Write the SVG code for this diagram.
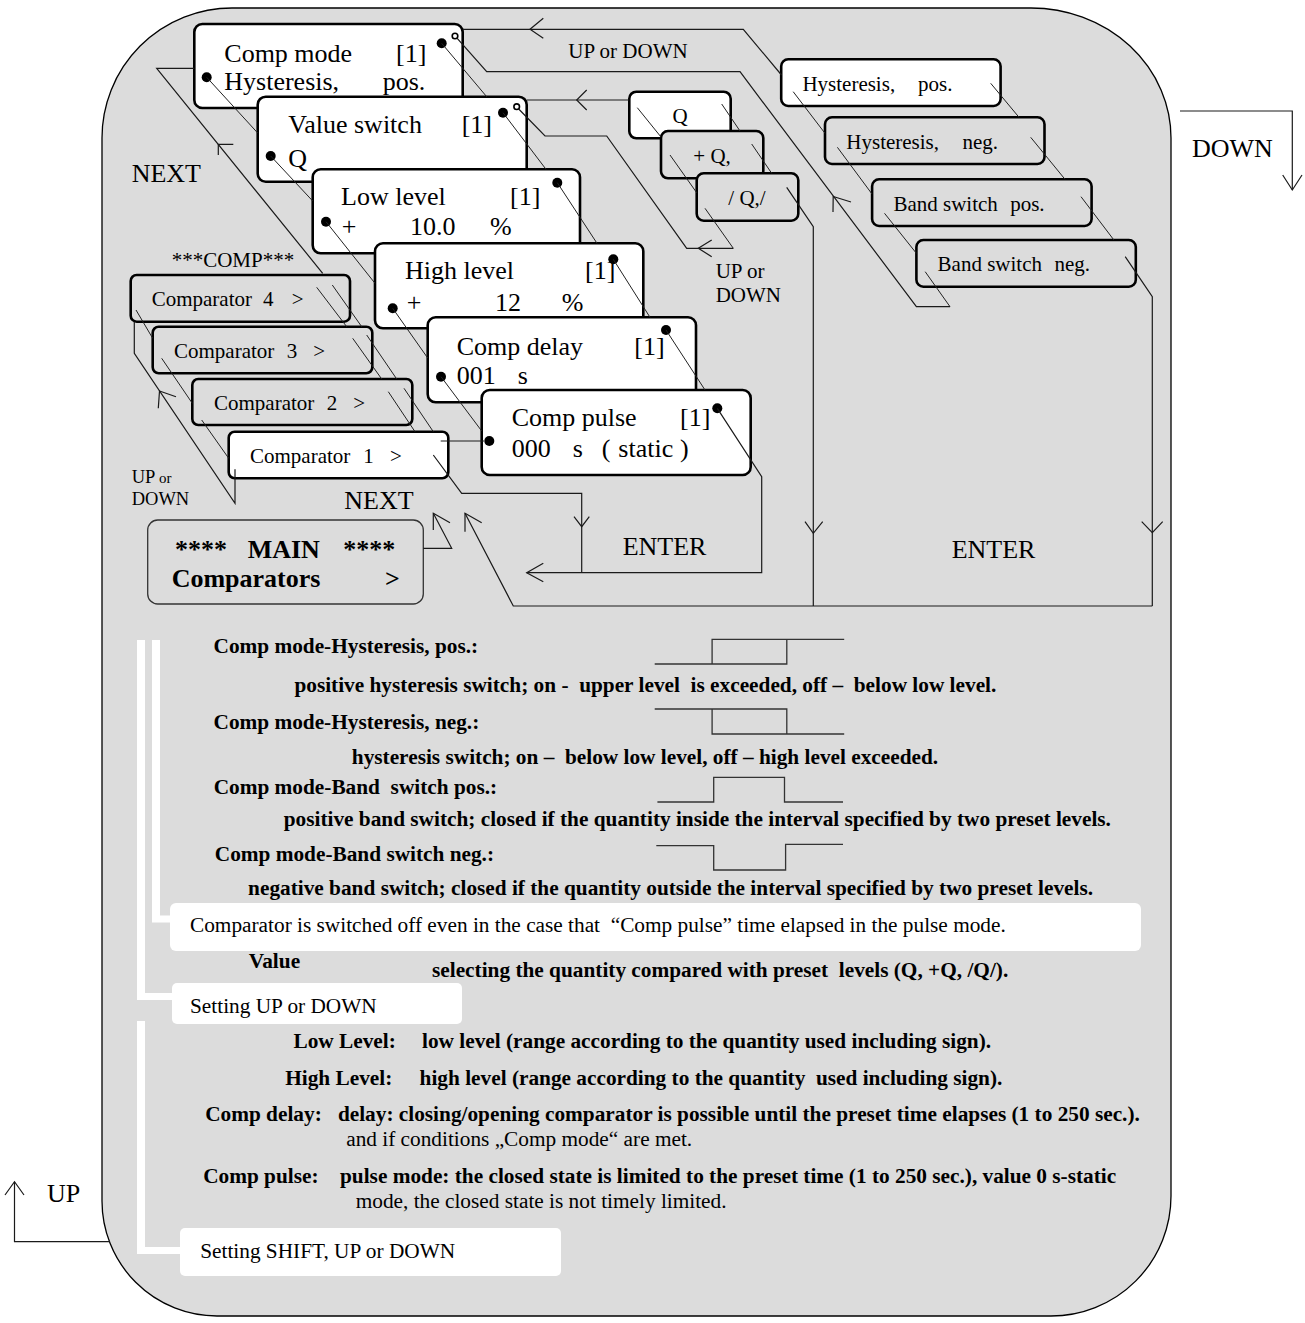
<svg xmlns="http://www.w3.org/2000/svg" width="1305" height="1323" viewBox="0 0 1305 1323">
<style>
text{font-family:"Liberation Serif","Times New Roman",serif;fill:#000}
.bg{fill:#dcdcdc;stroke:#000;stroke-width:1.3}
.wb{fill:#fff;stroke:#000;stroke-width:2.6}
.gb{fill:#dcdcdc;stroke:#000;stroke-width:2.6}
.mb{fill:#dcdcdc;stroke:#333;stroke-width:1.3}
.ln{fill:none;stroke:#1a1a1a;stroke-width:1.2}
.sl{fill:none;stroke:#222;stroke-width:1}
.ah{fill:none;stroke:#1a1a1a;stroke-width:1.2}
.dot{fill:#000}
.od{fill:#fff;stroke:#000;stroke-width:1.6}
.f26{font-size:26px}
.f21{font-size:21px}
.f18{font-size:18.5px}
.f15{font-size:15px}
.b26{font-size:26px;font-weight:bold}
.nb{font-size:21.3px;font-weight:bold}
.nr{font-size:21.3px}
.bar{fill:#fff}
.note{fill:#fff}
.wave{fill:none;stroke:#333;stroke-width:1.3}
</style>
<path class="bg" d="M232,8 H1031 A140,130 0 0 1 1171,138 V1196 A120,120 0 0 1 1051,1316 H217 A115,115 0 0 1 102,1201 V138 A130,130 0 0 1 232,8 Z"/>
<g id="comp-mode"><rect class="wb" x="194.3" y="24" width="268.4" height="84" rx="8"/><text class="f26" x="224.3" y="62.3">Comp mode<tspan x="396">[1]</tspan></text><text class="f26" x="224.3" y="90">Hysteresis,<tspan x="382.7">pos.</tspan></text><circle class="dot" cx="441.7" cy="43.3" r="5"/><circle class="od" cx="455" cy="36" r="2.8"/><circle class="dot" cx="206.7" cy="77.3" r="5"/></g>
<g id="value-switch"><rect class="wb" x="257.7" y="96.7" width="269" height="85" rx="8"/><text class="f26" x="288.3" y="133.3">Value switch<tspan x="461.7">[1]</tspan></text><text class="f26" x="288.3" y="166.7">Q</text><circle class="dot" cx="503" cy="112.7" r="5"/><circle class="od" cx="516.7" cy="106.7" r="2.8"/><circle class="dot" cx="270.7" cy="156" r="5"/></g>
<g id="low-level"><rect class="wb" x="312.7" y="169.3" width="267.3" height="84" rx="8"/><text class="f26" x="341" y="205">Low level<tspan x="510">[1]</tspan></text><text class="f26" x="341.7" y="235">+<tspan x="410">10.0</tspan><tspan x="490">%</tspan></text><circle class="dot" cx="557.3" cy="182.7" r="5"/><circle class="dot" cx="326" cy="221.7" r="5"/></g>
<g id="high-level"><rect class="wb" x="375" y="243.3" width="268.3" height="85" rx="8"/><text class="f26" x="405" y="279.3">High level<tspan x="585">[1]</tspan></text><text class="f26" x="406.7" y="310.7">+<tspan x="495">12</tspan><tspan x="561.7">%</tspan></text><circle class="dot" cx="613.3" cy="259.3" r="5"/><circle class="dot" cx="392.7" cy="308.3" r="5"/></g>
<g id="comp-delay"><rect class="wb" x="427.7" y="317.3" width="268.3" height="85" rx="8"/><text class="f26" x="456.7" y="355">Comp delay<tspan x="634.3">[1]</tspan></text><text class="f26" x="456.7" y="384">001<tspan x="517.7">s</tspan></text><circle class="dot" cx="666" cy="330" r="5"/><circle class="dot" cx="441" cy="376.7" r="5"/></g>
<g id="comp-pulse"><rect class="wb" x="481.7" y="390" width="269" height="85" rx="8"/><text class="f26" x="511.7" y="426">Comp pulse<tspan x="680">[1]</tspan></text><text class="f26" x="511.7" y="456.7">000<tspan x="572.7">s</tspan><tspan x="601.7">(</tspan><tspan x="618.3">static</tspan><tspan x="680">)</tspan></text><circle class="dot" cx="717.3" cy="408.3" r="5"/><circle class="dot" cx="489.3" cy="441" r="5"/></g>
<g id="opt-q"><rect class="wb" x="629.3" y="91.7" width="101.4" height="46.6" rx="7"/><text class="f21" x="680" y="123.3" text-anchor="middle">Q</text></g>
<g id="opt-plus-q"><rect class="gb" x="661" y="131" width="102.3" height="47.3" rx="7"/><text class="f21" x="693.3" y="163.3">+ Q,</text></g>
<g id="opt-abs-q"><rect class="gb" x="696.7" y="173.3" width="101.6" height="47.4" rx="7"/><text class="f21" x="728.3" y="205">/ Q,/</text></g>
<g id="hyst-pos"><rect class="wb" x="781.2" y="59.3" width="219.4" height="46.7" rx="7"/><text class="f21" x="802.4" y="91">Hysteresis,<tspan x="918.1">pos.</tspan></text></g>
<g id="hyst-neg"><rect class="gb" x="825" y="117.3" width="219.5" height="46.7" rx="7"/><text class="f21" x="846.3" y="149.3">Hysteresis,<tspan x="962.4">neg.</tspan></text></g>
<g id="band-pos"><rect class="gb" x="872.1" y="179.3" width="219.5" height="46.7" rx="7"/><text class="f21" x="893.4" y="210.7">Band switch<tspan x="1010.2">pos.</tspan></text></g>
<g id="band-neg"><rect class="gb" x="916.4" y="240" width="219.4" height="46.7" rx="7"/><text class="f21" x="937.6" y="270.7">Band switch<tspan x="1054.4">neg.</tspan></text></g>
<g id="comp-title"><text class="f21" x="171.7" y="267">***COMP***</text></g>
<g id="comparator-4"><rect class="gb" x="130.7" y="275" width="219.3" height="46.7" rx="6"/><text class="f21" x="151.7" y="306">Comparator<tspan x="263">4</tspan><tspan x="291.7">&gt;</tspan></text></g>
<g id="comparator-3"><rect class="gb" x="152.7" y="326.7" width="219.6" height="46.6" rx="6"/><text class="f21" x="174" y="358.3">Comparator<tspan x="286.7">3</tspan><tspan x="313.3">&gt;</tspan></text></g>
<g id="comparator-2"><rect class="gb" x="192.3" y="379" width="220" height="46" rx="6"/><text class="f21" x="214" y="410">Comparator<tspan x="326.7">2</tspan><tspan x="353.3">&gt;</tspan></text></g>
<g id="comparator-1"><rect class="wb" x="228.7" y="431.7" width="219.6" height="46.6" rx="6"/><text class="f21" x="250" y="462.7">Comparator<tspan x="363.3">1</tspan><tspan x="390">&gt;</tspan></text></g>
<g id="main-menu"><rect class="mb" x="147.7" y="520" width="275.6" height="84" rx="10"/><text class="b26" x="175" y="558.3">****<tspan x="247.7">MAIN</tspan><tspan x="343.3">****</tspan></text><text class="b26" x="171.7" y="586.7">Comparators<tspan x="385">&gt;</tspan></text></g>
<g id="connectors">
<path class="sl" d="M206.7,77.3 L257.7,133 M441.7,43.3 L486.7,96.7 M270.7,156 L312.7,201 M503,112.7 L546,169.3 M326,221.7 L375,283.3 M557.3,182.7 L597,243.3 M392.7,308.3 L427.7,358 M613.3,259.3 L650,317.3 M441,376.7 L481.7,431 M666,330 L705,390"/>
<path class="sl" d="M637.3,107.7 L661,137 M721.7,104 L740,131 M670,155 L696.7,192.7 M751.7,144 L771.7,173.3 M705,208.3 L733.3,248.3"/>
<path class="sl" d="M793.2,91.7 L825,133.3 M990.7,83.3 L1019,117.3 M837.4,147.3 L872,194 M1030.7,137.3 L1065,179.3 M884.5,213.3 L916.4,253.3 M1081,196.7 L1113.9,240 M925.2,271.7 L950,306.7"/>
<path class="sl" d="M136,310 L152.7,338.3 M316.7,287.3 L346.7,326.7 M332.3,285 L361.7,326.7 M161.7,358.3 L192.3,403.3 M352.7,338.3 L381.7,379 M366.7,335 L396.7,379 M201.7,420 L228.7,458.3 M388.3,391.7 L415,431.7 M404,388.3 L433.3,431.7"/>
<path class="ln" d="M463,29.3 H743.3 L781.5,75"/>
<path class="ln" d="M457,38.2 L486.7,71.7 H740 L916.4,306.7 H950"/>
<path class="ln" d="M518.7,109 L545,136 H606.7 L686.7,248.3 H733.3"/>
<path class="ln" d="M526.7,100 H629.3"/>
<path class="ln" d="M786.7,187.3 L813.3,226.7 V606"/>
<path class="ln" d="M1125.2,256.7 L1152.3,296.7 V606"/>
<path class="ln" d="M465,513.3 L513.3,606 H1152.3"/>
<path class="ln" d="M433.3,455 L461.7,493.3 H581.7 V572.7"/>
<path class="ln" d="M526.7,572.7 H761.7 V476.7 L717.3,408.3"/>
<path class="ln" d="M440.7,441 H484"/>
<path class="ln" d="M423.3,548.3 H451.7 L433.3,513.3"/>
<path class="ln" d="M194.3,68.3 H156.7 L322.7,273.3"/>
<path class="ln" d="M134.3,321.7 V353.3 L235,503.3 V469.3"/>
<path class="ln" d="M1180,111 H1292.3 V190"/>
<path class="ln" d="M110,1241.7 H14.5 V1181.7"/>
<path class="ah" d="M543.3,18.3 L530,29.3 L543.3,38.3 M586.7,90 L576.7,100 L586.7,110 M711.7,240 L698.3,248.3 L711.7,256.7 M851,202 L833.2,196.5 L833,212 M805,521.7 L813.3,533.3 L822.7,521.7 M1141.7,521.7 L1152.3,532.7 L1162.7,521.7 M574,516.7 L581.7,526.7 L589.3,516.7 M543.3,563.3 L526.7,572.7 L543.3,581.7 M450,522.7 L433.3,513.3 L433.3,530 M481.7,522.7 L465,513.3 L465,531.7 M233.3,144.3 L218.3,144.3 L218.3,155 M176,396.7 L159.5,391 L158.3,408.3 M1282.7,175 L1292.3,190 L1302,175 M5,1195 L14.5,1181.7 L24,1195"/>
</g>
<g id="labels">
<text class="f21" x="568.3" y="58.3">UP or DOWN</text>
<text class="f21" x="715.7" y="277.7">UP or</text>
<text class="f21" x="715.7" y="301.7">DOWN</text>
<text class="f26" x="131.7" y="181.7">NEXT</text>
<text class="f26" x="344.3" y="509.3">NEXT</text>
<text class="f18" x="131.7" y="482.7">UP<tspan class="f15"> or</tspan></text>
<text class="f18" x="131.7" y="505">DOWN</text>
<text class="f26" x="622.7" y="555">ENTER</text>
<text class="f26" x="951.7" y="558.3">ENTER</text>
<text class="f26" x="1192" y="156.7">DOWN</text>
<text class="f26" x="47" y="1201.7">UP</text>
</g>
<g id="notes">
<rect class="bar" x="137" y="640" width="8" height="360"/>
<rect class="bar" x="137" y="993" width="36" height="7"/>
<rect class="bar" x="152" y="640" width="8" height="282"/>
<rect class="bar" x="152" y="915.5" width="19" height="7"/>
<rect class="bar" x="137" y="1021" width="8" height="233"/>
<rect class="bar" x="137" y="1247" width="44" height="7"/>
<rect class="note" x="170" y="903" width="971" height="48" rx="6"/>
<rect class="note" x="172" y="983" width="290" height="41" rx="5"/>
<rect class="note" x="180" y="1228" width="381" height="48" rx="5"/>
<path class="wave" d="M654.7,664 H786.8 V639.3 H712.1 V664 M786.8,639.3 H844.2"/>
<path class="wave" d="M654.7,709 H786.8 V734 H712.1 V709 M786.8,734 H844.2"/>
<path class="wave" d="M657.4,802 H713.7 V777.3 H784.5 V802 H843"/>
<path class="wave" d="M656.3,845.7 H713.7 V870 H785.6 V844.3 H843"/>
<text class="nb" x="213.5" y="653.3">Comp mode-Hysteresis, pos.:</text>
<text class="nb" x="294.4" y="691.5">positive hysteresis switch; on - &#160;upper level &#160;is exceeded, off – &#160;below low level.</text>
<text class="nb" x="213.5" y="729.3">Comp mode-Hysteresis, neg.:</text>
<text class="nb" x="351.8" y="764">hysteresis switch; on – &#160;below low level, off – high level exceeded.</text>
<text class="nb" x="213.7" y="794.3">Comp mode-Band &#160;switch pos.:</text>
<text class="nb" x="283.7" y="826">positive band switch; closed if the quantity inside the interval specified by two preset levels.</text>
<text class="nb" x="214.8" y="860.7">Comp mode-Band switch neg.:</text>
<text class="nb" x="248.1" y="895">negative band switch; closed if the quantity outside the interval specified by two preset levels.</text>
<text class="nr" x="190" y="931.7">Comparator is switched off even in the case that &#160;“Comp pulse” time elapsed in the pulse mode.</text>
<text class="nb" x="248.8" y="968.3">Value</text>
<text class="nb" x="432" y="977">selecting the quantity compared with preset &#160;levels (Q, +Q, /Q/).</text>
<text class="nr" x="190" y="1013.3">Setting UP or DOWN</text>
<text class="nb" x="293.5" y="1048.3">Low Level:</text>
<text class="nb" x="422" y="1048.3">low level (range according to the quantity used including sign).</text>
<text class="nb" x="285.2" y="1084.5">High Level:</text>
<text class="nb" x="419.6" y="1084.5">high level (range according to the quantity &#160;used including sign).</text>
<text class="nb" x="205.2" y="1121">Comp delay:</text>
<text class="nb" x="337.9" y="1121">delay: closing/opening comparator is possible until the preset time elapses (1 to 250 sec.).</text>
<text class="nr" x="346.2" y="1146">and if conditions „Comp mode“ are met.</text>
<text class="nb" x="203.2" y="1182.5">Comp pulse:</text>
<text class="nb" x="340" y="1182.5">pulse mode: the closed state is limited to the preset time (1 to 250 sec.), value 0 s-static</text>
<text class="nr" x="355.7" y="1208.3">mode, the closed state is not timely limited.</text>
<text class="nr" x="200.2" y="1258.3">Setting SHIFT, UP or DOWN</text>
</g>
</svg>
